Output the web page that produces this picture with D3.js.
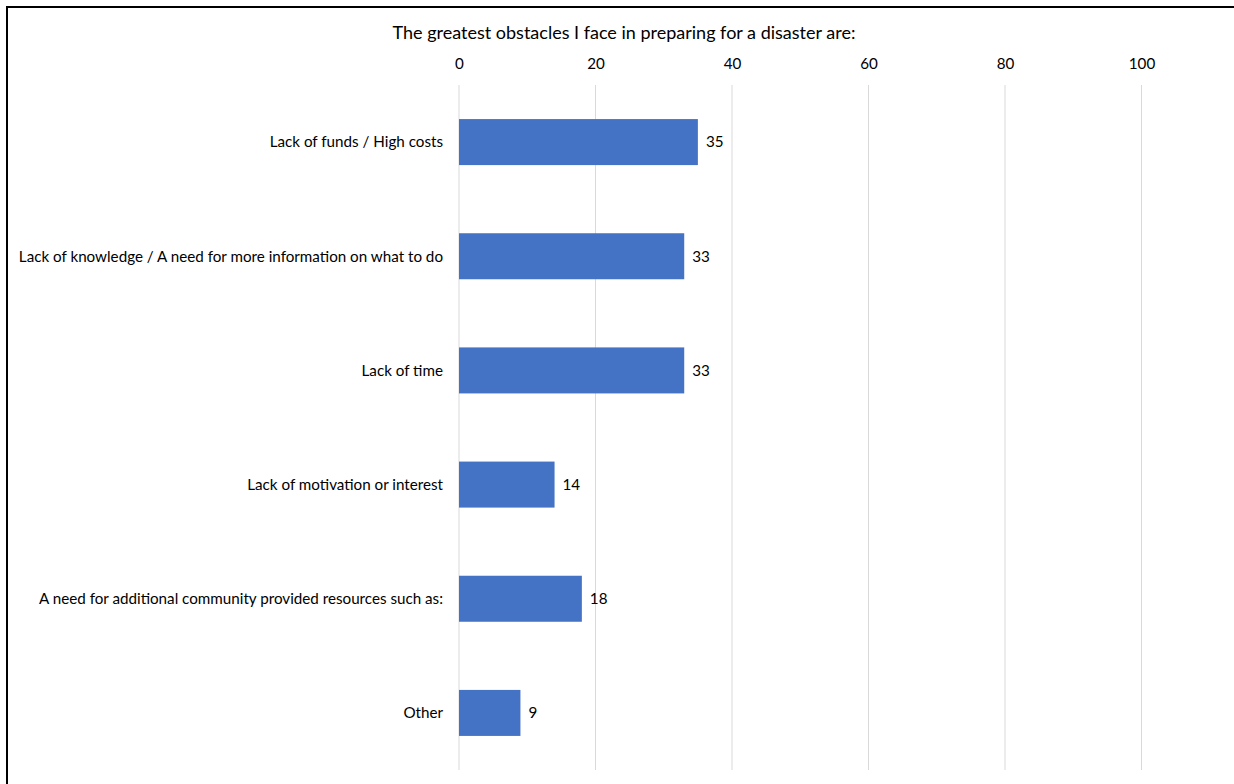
<!DOCTYPE html>
<html><head><meta charset="utf-8">
<script src="https://cdn.jsdelivr.net/npm/d3@7"></script>
<style>
html,body{margin:0;padding:0;background:#fff;}
svg{display:block;font-family:Lato,"Open Sans",sans-serif;}
</style></head>
<body>
<svg id="chart" width="1234" height="784"></svg>
<script>
const title = "The greatest obstacles I face in preparing for a disaster are:";
const categories = [
  "Lack of funds / High costs",
  "Lack of knowledge / A need for more information on what to do",
  "Lack of time",
  "Lack of motivation or interest",
  "A need for additional community provided resources such as:",
  "Other"
];
const values = [35, 33, 33, 14, 18, 9];
const xTicks = [0, 20, 40, 60, 80, 100];

const svg = d3.select("#chart");
const W = 1234, H = 784;
const FS = 15.2;

// outer border
svg.append("rect").attr("x", 7).attr("y", 7).attr("width", W + 10).attr("height", H + 10)
  .attr("fill", "none").attr("stroke", "#000").attr("stroke-width", 2);

const x = d3.scaleLinear().domain([0, 100]).range([459, 1141.5]);
const y = d3.scaleBand().domain(categories).range([85, 770]).paddingInner(0.597).paddingOuter(0.2985);

// gridlines
svg.append("g").selectAll("line").data(xTicks).join("line")
  .attr("x1", d => x(d)).attr("x2", d => x(d))
  .attr("y1", 85).attr("y2", 770)
  .attr("stroke", "#d9d9d9").attr("stroke-width", 1);

// top axis labels
const ax = svg.append("g").attr("transform", "translate(0,64)")
  .call(d3.axisTop(x).tickValues(xTicks).tickSize(0).tickPadding(0).tickFormat(d3.format("d")));
ax.select(".domain").remove();
ax.selectAll("text").attr("font-size", FS).attr("fill", "#000").attr("dy", "0.35em")
  .attr("font-family", "Lato, 'Open Sans', sans-serif");

// title
svg.append("text").attr("x", 624).attr("y", 33).attr("dy", "0.35em").attr("text-anchor", "middle")
  .attr("font-size", 18).attr("fill", "#000").text(title);

// bars
svg.append("g").selectAll("rect").data(values).join("rect")
  .attr("x", x(0)).attr("y", (d, i) => y(categories[i]))
  .attr("width", d => x(d) - x(0)).attr("height", y.bandwidth())
  .attr("fill", "#4472c4");

// value labels
svg.append("g").selectAll("text").data(values).join("text")
  .attr("x", d => x(d) + 8).attr("y", (d, i) => y(categories[i]) + y.bandwidth() / 2)
  .attr("dy", "0.35em").attr("font-size", FS).attr("fill", "#000").text(d => d);

// category labels
svg.append("g").selectAll("text").data(categories).join("text")
  .attr("x", 443).attr("y", d => y(d) + y.bandwidth() / 2)
  .attr("dy", "0.35em").attr("text-anchor", "end").attr("font-size", FS).attr("fill", "#000").text(d => d);
</script>
</body></html>
